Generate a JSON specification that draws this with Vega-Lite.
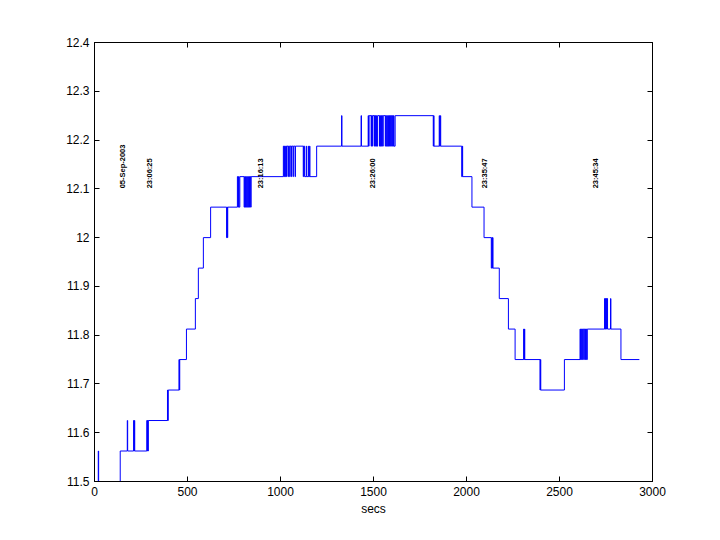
{
  "$schema": "https://vega.github.io/schema/vega-lite/v6.json",
  "width": 558,
  "height": 439,
  "autosize": {"type": "none"},
  "padding": {"left": 94, "top": 42, "right": 68, "bottom": 59},
  "background": "white",
  "datasets": {
    "voltage": [
      {"secs": 0, "value": 11.5},
      {"secs": 23, "value": 11.5625},
      {"secs": 25, "value": 11.5},
      {"secs": 141, "value": 11.5625},
      {"secs": 179, "value": 11.625},
      {"secs": 181, "value": 11.5625},
      {"secs": 213, "value": 11.625},
      {"secs": 215, "value": 11.5625},
      {"secs": 217, "value": 11.625},
      {"secs": 219, "value": 11.5625},
      {"secs": 284, "value": 11.625},
      {"secs": 286, "value": 11.5625},
      {"secs": 288, "value": 11.625},
      {"secs": 290, "value": 11.5625},
      {"secs": 292, "value": 11.625},
      {"secs": 395, "value": 11.6875},
      {"secs": 397, "value": 11.625},
      {"secs": 399, "value": 11.6875},
      {"secs": 457, "value": 11.75},
      {"secs": 459, "value": 11.6875},
      {"secs": 461, "value": 11.75},
      {"secs": 497, "value": 11.8125},
      {"secs": 545, "value": 11.875},
      {"secs": 561, "value": 11.9375},
      {"secs": 588, "value": 12.0},
      {"secs": 627, "value": 12.0625},
      {"secs": 713, "value": 12.0},
      {"secs": 715, "value": 12.0625},
      {"secs": 717, "value": 12.0},
      {"secs": 719, "value": 12.0625},
      {"secs": 771, "value": 12.125},
      {"secs": 774, "value": 12.0625},
      {"secs": 777, "value": 12.125},
      {"secs": 780, "value": 12.0625},
      {"secs": 784, "value": 12.125},
      {"secs": 807, "value": 12.0625},
      {"secs": 810, "value": 12.125},
      {"secs": 812, "value": 12.0625},
      {"secs": 815, "value": 12.125},
      {"secs": 818, "value": 12.0625},
      {"secs": 821, "value": 12.125},
      {"secs": 824, "value": 12.0625},
      {"secs": 827, "value": 12.125},
      {"secs": 830, "value": 12.0625},
      {"secs": 833, "value": 12.125},
      {"secs": 836, "value": 12.0625},
      {"secs": 839, "value": 12.125},
      {"secs": 842, "value": 12.0625},
      {"secs": 845, "value": 12.125},
      {"secs": 1018, "value": 12.1875},
      {"secs": 1021, "value": 12.125},
      {"secs": 1024, "value": 12.1875},
      {"secs": 1027, "value": 12.125},
      {"secs": 1030, "value": 12.1875},
      {"secs": 1035, "value": 12.125},
      {"secs": 1037, "value": 12.1875},
      {"secs": 1044, "value": 12.125},
      {"secs": 1046, "value": 12.1875},
      {"secs": 1052, "value": 12.125},
      {"secs": 1054, "value": 12.1875},
      {"secs": 1060, "value": 12.125},
      {"secs": 1062, "value": 12.1875},
      {"secs": 1070, "value": 12.125},
      {"secs": 1072, "value": 12.1875},
      {"secs": 1081, "value": 12.125},
      {"secs": 1083, "value": 12.1875},
      {"secs": 1125, "value": 12.125},
      {"secs": 1127, "value": 12.1875},
      {"secs": 1132, "value": 12.125},
      {"secs": 1141, "value": 12.1875},
      {"secs": 1143, "value": 12.125},
      {"secs": 1152, "value": 12.1875},
      {"secs": 1154, "value": 12.125},
      {"secs": 1159, "value": 12.1875},
      {"secs": 1161, "value": 12.125},
      {"secs": 1197, "value": 12.1875},
      {"secs": 1331, "value": 12.25},
      {"secs": 1333, "value": 12.1875},
      {"secs": 1436, "value": 12.25},
      {"secs": 1438, "value": 12.1875},
      {"secs": 1474, "value": 12.25},
      {"secs": 1476, "value": 12.1875},
      {"secs": 1479, "value": 12.25},
      {"secs": 1490, "value": 12.1875},
      {"secs": 1492, "value": 12.25},
      {"secs": 1495, "value": 12.1875},
      {"secs": 1497, "value": 12.25},
      {"secs": 1506, "value": 12.1875},
      {"secs": 1508, "value": 12.25},
      {"secs": 1511, "value": 12.1875},
      {"secs": 1513, "value": 12.25},
      {"secs": 1516, "value": 12.1875},
      {"secs": 1519, "value": 12.25},
      {"secs": 1522, "value": 12.1875},
      {"secs": 1525, "value": 12.25},
      {"secs": 1535, "value": 12.1875},
      {"secs": 1537, "value": 12.25},
      {"secs": 1540, "value": 12.1875},
      {"secs": 1543, "value": 12.25},
      {"secs": 1546, "value": 12.1875},
      {"secs": 1549, "value": 12.25},
      {"secs": 1552, "value": 12.1875},
      {"secs": 1555, "value": 12.25},
      {"secs": 1566, "value": 12.1875},
      {"secs": 1568, "value": 12.25},
      {"secs": 1571, "value": 12.1875},
      {"secs": 1574, "value": 12.25},
      {"secs": 1577, "value": 12.1875},
      {"secs": 1580, "value": 12.25},
      {"secs": 1583, "value": 12.1875},
      {"secs": 1586, "value": 12.25},
      {"secs": 1589, "value": 12.1875},
      {"secs": 1592, "value": 12.25},
      {"secs": 1595, "value": 12.1875},
      {"secs": 1598, "value": 12.25},
      {"secs": 1601, "value": 12.1875},
      {"secs": 1604, "value": 12.25},
      {"secs": 1607, "value": 12.1875},
      {"secs": 1610, "value": 12.25},
      {"secs": 1613, "value": 12.1875},
      {"secs": 1619, "value": 12.25},
      {"secs": 1824, "value": 12.1875},
      {"secs": 1826, "value": 12.25},
      {"secs": 1828, "value": 12.1875},
      {"secs": 1856, "value": 12.25},
      {"secs": 1858, "value": 12.1875},
      {"secs": 1862, "value": 12.25},
      {"secs": 1864, "value": 12.1875},
      {"secs": 1977, "value": 12.125},
      {"secs": 1980, "value": 12.1875},
      {"secs": 1982, "value": 12.125},
      {"secs": 2032, "value": 12.0625},
      {"secs": 2097, "value": 12.0},
      {"secs": 2136, "value": 11.9375},
      {"secs": 2139, "value": 12.0},
      {"secs": 2141, "value": 11.9375},
      {"secs": 2143, "value": 12.0},
      {"secs": 2145, "value": 11.9375},
      {"secs": 2179, "value": 11.875},
      {"secs": 2228, "value": 11.8125},
      {"secs": 2264, "value": 11.75},
      {"secs": 2310, "value": 11.8125},
      {"secs": 2312, "value": 11.75},
      {"secs": 2314, "value": 11.8125},
      {"secs": 2316, "value": 11.75},
      {"secs": 2398, "value": 11.6875},
      {"secs": 2400, "value": 11.75},
      {"secs": 2402, "value": 11.6875},
      {"secs": 2529, "value": 11.75},
      {"secs": 2613, "value": 11.8125},
      {"secs": 2616, "value": 11.75},
      {"secs": 2619, "value": 11.8125},
      {"secs": 2622, "value": 11.75},
      {"secs": 2625, "value": 11.8125},
      {"secs": 2628, "value": 11.75},
      {"secs": 2631, "value": 11.8125},
      {"secs": 2638, "value": 11.75},
      {"secs": 2640, "value": 11.8125},
      {"secs": 2643, "value": 11.75},
      {"secs": 2646, "value": 11.8125},
      {"secs": 2649, "value": 11.75},
      {"secs": 2652, "value": 11.8125},
      {"secs": 2745, "value": 11.875},
      {"secs": 2747, "value": 11.8125},
      {"secs": 2749, "value": 11.875},
      {"secs": 2751, "value": 11.8125},
      {"secs": 2753, "value": 11.875},
      {"secs": 2756, "value": 11.8125},
      {"secs": 2758, "value": 11.875},
      {"secs": 2761, "value": 11.8125},
      {"secs": 2777, "value": 11.875},
      {"secs": 2779, "value": 11.8125},
      {"secs": 2833, "value": 11.75},
      {"secs": 2932, "value": 11.75}
    ],
    "stamps": [
      {"secs": 155, "value": 12.1, "label": "05-Sep-2003"},
      {"secs": 300, "value": 12.1, "label": "23:06:25"},
      {"secs": 900, "value": 12.1, "label": "23:16:13"},
      {"secs": 1500, "value": 12.1, "label": "23:26:00"},
      {"secs": 2100, "value": 12.1, "label": "23:35:47"},
      {"secs": 2700, "value": 12.1, "label": "23:45:34"}
    ]
  },
  "layer": [
    {
      "data": {"name": "voltage"},
      "mark": {"type": "line", "interpolate": "step-after", "color": "#0000ff", "strokeWidth": 1, "yOffset": 0.5},
      "encoding": {
        "x": {
          "field": "secs", "type": "quantitative",
          "scale": {"domain": [0, 3000], "nice": false, "zero": false},
          "axis": {"orient": "bottom", "zindex": 2, "title": "secs", "values": [0, 500, 1000, 1500, 2000, 2500, 3000], "format": "d"}
        },
        "y": {
          "field": "value", "type": "quantitative",
          "scale": {"domain": [11.5, 12.4], "nice": false, "zero": false},
          "axis": {"orient": "left", "zindex": 2, "title": null, "values": [11.5, 11.6, 11.7, 11.8, 11.9, 12, 12.1, 12.2, 12.3, 12.4], "format": "~g"}
        }
      }
    },
    {
      "data": {"name": "stamps"},
      "mark": {"type": "text", "angle": 270, "align": "left", "baseline": "middle", "font": "Liberation Sans", "fontSize": 7.5, "fontWeight": "bold", "color": "black"},
      "encoding": {
        "x": {
          "field": "secs", "type": "quantitative",
          "axis": {"orient": "top", "zindex": 2, "title": null, "labels": false, "values": [0, 500, 1000, 1500, 2000, 2500, 3000]}
        },
        "y": {
          "field": "value", "type": "quantitative",
          "axis": {"orient": "right", "zindex": 2, "title": null, "labels": false, "values": [11.5, 11.6, 11.7, 11.8, 11.9, 12, 12.1, 12.2, 12.3, 12.4]}
        },
        "text": {"field": "label", "type": "nominal"}
      }
    }
  ],
  "resolve": {"axis": {"x": "independent", "y": "independent"}},
  "view": {"stroke": "black", "strokeWidth": 1},
  "config": {
    "axis": {
      "grid": false,
      "domainColor": "black",
      "domainWidth": 1,
      "tickColor": "black",
      "tickSize": -5,
      "tickWidth": 1,
      "labelPadding": 10,
      "labelFont": "Liberation Sans",
      "labelFontSize": 12,
      "labelColor": "black",
      "labelFlush": false,
      "labelOverlap": false,
      "titleFont": "Liberation Sans",
      "titleFontSize": 12,
      "titleFontWeight": "normal",
      "titleColor": "black",
      "titlePadding": 6
    }
  }
}
